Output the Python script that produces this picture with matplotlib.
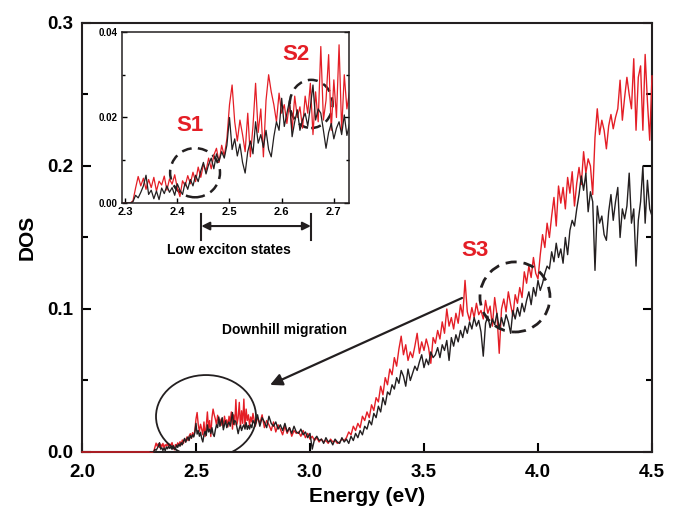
import numpy as np
import matplotlib.pyplot as plt
from matplotlib.patches import Ellipse
from matplotlib.ticker import MultipleLocator, FormatStrFormatter
from matplotlib.transforms import blended_transform_factory

plt.rcParams['font.family'] = ['Liberation Sans', 'DejaVu Sans']
plt.rcParams['font.weight'] = 'bold'

RED = '#e41e26'
BLACK = '#231f20'

# energy grid (eV): 0.005 eV steps from 2.30, 0.01 eV steps from 2.75
E_LOW_START, E_LOW_STEP = 2.30, 0.005
E_HI_START, E_HI_STEP = 2.75, 0.01

# DOS values in units of 1e-3, 2.300 ... 2.745 eV
red_low = [0, 0, 0, 0.5, 3.5, 6.2, 4.0, 5.8, 3.2, 5.5,
           3.6, 6.0, 2.8, 5.1, 4.2, 6.3, 3.0, 5.6, 4.4, 6.6,
           3.5, 1.5, 5.2, 4.0, 6.4, 4.5, 7.2, 5.0, 8.4, 6.0,
           9.0, 7.5, 10.5, 8.0, 11.2, 12.8, 9.5, 13.5, 11.0, 15.0,
           23.0, 27.6, 19.0, 14.5, 19.4, 16.0, 12.0, 21.0, 10.8, 18.0,
           28.0, 16.5, 22.0, 10.8, 24.0, 30.0, 26.0, 23.0, 19.0, 25.7,
           21.0, 23.0, 18.6, 23.5, 17.0, 25.0, 20.0, 22.5, 17.5, 25.0,
           21.0, 28.0, 16.0, 26.0, 19.0, 36.6, 19.4, 24.0, 34.7, 17.0,
           28.8, 20.0, 37.0, 17.0, 30.0, 22.0, 26.0, 18.5, 24.5, 21.0]
black_low = [0, 0, 0, 0.3, 1.8, 1.2, 2.5, 4.0, 6.5, 2.0,
             3.0, 1.0, 2.8, 0.8, 3.5, 2.2, 4.0, 2.5, 3.6, 1.8,
             4.5, 3.0, 2.0, 4.8, 3.2, 5.5, 4.0, 6.5, 5.0, 7.5,
             9.5, 6.8, 9.0, 10.5, 8.0, 11.5, 9.8, 12.0, 10.5, 13.5,
             20.0, 12.5, 15.0, 11.0, 13.8, 9.5, 7.0, 12.0, 14.5, 11.5,
             19.0, 14.0, 16.0, 13.0, 17.0, 12.5, 10.8, 15.5, 19.0, 17.0,
             24.5, 17.9, 21.0, 24.0, 15.5, 19.0, 21.8, 17.0, 19.5, 21.0,
             18.0, 22.5, 27.6, 19.4, 22.0, 21.0, 17.0, 12.8, 16.5, 18.6,
             15.0, 17.5, 19.0, 16.0, 20.6, 15.8, 18.5, 16.0, 19.0, 17.0]

# DOS values in units of 1e-3, 2.75 ... 4.50 eV
red_hi = [27, 18, 24, 20, 26, 17, 22, 19, 15, 21,
          14, 19, 16, 12, 18, 13, 17, 11, 15, 13,
          14, 11, 15, 10, 13, 9, 11, 8, 10, 7,
          9, 7, 8, 6, 9, 7, 8, 6, 7, 9,
          8, 10, 14, 12, 18, 15, 20, 17, 25, 22,
          28, 24, 33, 29, 38, 35, 46, 40, 52, 47,
          58, 54, 66, 60, 72, 81, 68, 75, 64, 70,
          66, 74, 83, 69, 77, 71, 79, 73, 62, 80,
          76, 85, 79, 91, 83, 100, 88, 94, 86, 97,
          90, 103, 95, 120, 98, 92, 101, 94, 104, 96,
          99, 93, 106, 97, 102, 88, 108, 96, 69, 100,
          107, 98, 112, 103, 95, 110, 104, 115, 108, 126,
          118, 130, 122, 136, 125, 121, 138, 152, 143, 160,
          150, 165, 178, 158, 186, 174, 185, 170, 192, 181,
          196, 172, 188, 199, 187, 210, 195, 205, 200, 180,
          220, 240, 222, 232, 225, 212, 228, 236, 226, 234,
          240, 260, 232, 248, 262, 250, 240, 275, 225, 262,
          270, 225, 278, 245, 218, 263]
black_hi = [22, 19, 26, 18, 24, 21, 17, 25, 20, 18,
            21, 16, 19, 15, 20, 14, 17, 13, 18, 14,
            13, 16, 12, 14, 10, 13, 2, 9, 11, 8,
            9, 6, 10, 7, 8, 5, 9, 7, 6, 10,
            7, 9, 6, 11, 8, 13, 10, 15, 12, 18,
            16, 22, 19, 27, 24, 32, 28, 38, 33, 42,
            40, 47, 44, 52, 48, 57, 53, 46, 58, 50,
            55, 60, 57, 63, 68, 59, 65, 61, 70, 66,
            68, 73, 66, 75, 71, 78, 64, 80, 74, 82,
            77, 85, 80, 88, 83, 91, 86, 94, 88, 92,
            84, 67, 90, 95, 87, 93, 89, 97, 86, 94,
            88, 96, 91, 83, 99, 93, 101, 95, 104, 98,
            106, 112, 103, 115, 109, 120, 113, 118, 125, 130,
            128, 140, 133, 146, 136, 142, 132, 150, 138, 155,
            162, 158, 170, 180, 193, 183, 195, 168, 182, 175,
            127, 172, 160, 165, 152, 148, 168, 180, 162, 175,
            185, 150, 170, 163, 172, 195, 160, 170, 130, 162,
            175, 200, 160, 190, 170, 165]

e_low = E_LOW_START + E_LOW_STEP * np.arange(len(red_low))
e_hi = E_HI_START + E_HI_STEP * np.arange(len(red_hi))

# red spectrum is recorded from 2.0 eV (flat zero below 2.3 eV)
energy_red = np.concatenate([[2.0], e_low, e_hi])
dos_red = np.concatenate([[0], red_low, red_hi]) * 1e-3
energy_black = np.concatenate([e_low, e_hi])
dos_black = np.concatenate([black_low, black_hi]) * 1e-3

fig = plt.figure(figsize=(6.82, 5.2), dpi=100)
ax = fig.add_axes([0.1202, 0.1308, 0.8358, 0.825])
ax.plot(energy_red, dos_red, color=RED, lw=1.0, zorder=3, clip_on=False)
ax.plot(energy_black, dos_black, color=BLACK, lw=1.0, zorder=3)
ax.set_xlim(2.0, 4.5)
ax.set_ylim(0, 0.3)
ax.xaxis.set_major_locator(MultipleLocator(0.5))
ax.yaxis.set_major_locator(MultipleLocator(0.1))
ax.yaxis.set_minor_locator(MultipleLocator(0.05))
ax.xaxis.set_major_formatter(FormatStrFormatter('%.1f'))
ax.yaxis.set_major_formatter(FormatStrFormatter('%.1f'))
ax.tick_params(which='both', direction='in', width=1.5, labelsize=13.5,
               right=True, top=False)
ax.tick_params(which='major', length=6.5)
ax.tick_params(which='minor', length=4)
ax.tick_params(axis='x', pad=9)
ax.tick_params(axis='y', pad=6)
for s in ax.spines.values():
    s.set_linewidth(1.5)
    s.set_color(BLACK)
ax.set_xlabel('Energy (eV)', fontsize=15, fontweight='bold')
ax.set_ylabel('DOS', fontsize=15, fontweight='bold', labelpad=8)

# annotations on main plot
ax.add_patch(Ellipse((2.544, 0.0248), 0.4386, 0.058, fill=False,
                     lw=1.3, ec=BLACK, zorder=4))
ax.add_patch(Ellipse((3.899, 0.1084), 0.307, 0.049, fill=False,
                     lw=2.0, ec=BLACK, ls=(0, (4, 2.5)), zorder=4))
ax.annotate('', xy=(2.825, 0.0469), xytext=(3.667, 0.1077),
            arrowprops=dict(arrowstyle='-|>', lw=1.6, color=BLACK,
                            mutation_scale=18, shrinkA=0, shrinkB=0))
ax.text(3.724, 0.1406, 'S3', color=RED, fontsize=16, fontweight='bold',
        ha='center', va='center')
ax.text(2.890, 0.0853, 'Downhill migration', fontsize=10,
        fontweight='bold', ha='center', va='center')
ax.text(2.6425, 0.1413, 'Low exciton states', fontsize=10,
        fontweight='bold', ha='center', va='center')

# inset
ins = fig.add_axes([0.1789, 0.6096, 0.3328, 0.3289])
ins.plot(energy_red, dos_red, color=RED, lw=0.9)
ins.plot(energy_black, dos_black, color=BLACK, lw=0.9)
ins.set_xlim(2.294, 2.729)
ins.set_ylim(0, 0.04)
ins.xaxis.set_major_locator(MultipleLocator(0.1))
ins.yaxis.set_major_locator(MultipleLocator(0.02))
ins.yaxis.set_minor_locator(MultipleLocator(0.01))
ins.xaxis.set_major_formatter(FormatStrFormatter('%.1f'))
ins.yaxis.set_major_formatter(FormatStrFormatter('%.2f'))
ins.tick_params(which='both', direction='in', width=1.0, right=True)
ins.tick_params(which='major', length=3.5)
ins.tick_params(which='minor', length=2)
ins.tick_params(axis='x', labelsize=8, pad=3)
ins.tick_params(axis='y', labelsize=7, pad=3)
for s in ins.spines.values():
    s.set_linewidth(1.1)
    s.set_color(BLACK)
ins.add_patch(Ellipse((2.434, 0.00709), 0.0956, 0.0115, fill=False,
                      lw=1.8, ec=BLACK, ls=(0, (4, 2.5))))
ins.add_patch(Ellipse((2.6566, 0.02317), 0.0822, 0.01127, fill=False,
                      lw=1.8, ec=BLACK, ls=(0, (4, 2.5))))
ins.text(2.4243, 0.01824, 'S1', color=RED, fontsize=16, fontweight='bold',
         ha='center', va='center')
ins.text(2.627, 0.03467, 'S2', color=RED, fontsize=16, fontweight='bold',
         ha='center', va='center')

# double arrow under inset: x in inset energy, y in main DOS
trans = blended_transform_factory(ins.transData, ax.transData)
for xb in (2.446, 2.656):
    ax.plot([xb, xb], [0.1483, 0.1664], color=BLACK, lw=1.5,
            transform=trans, clip_on=False)
ax.annotate('', xy=(2.656, 0.158), xytext=(2.446, 0.158),
            xycoords=trans, textcoords=trans,
            arrowprops=dict(arrowstyle='<|-|>', lw=1.5, color=BLACK,
                            mutation_scale=12, shrinkA=0, shrinkB=0))

fig.savefig('out.png', dpi=100)
plt.close(fig)
